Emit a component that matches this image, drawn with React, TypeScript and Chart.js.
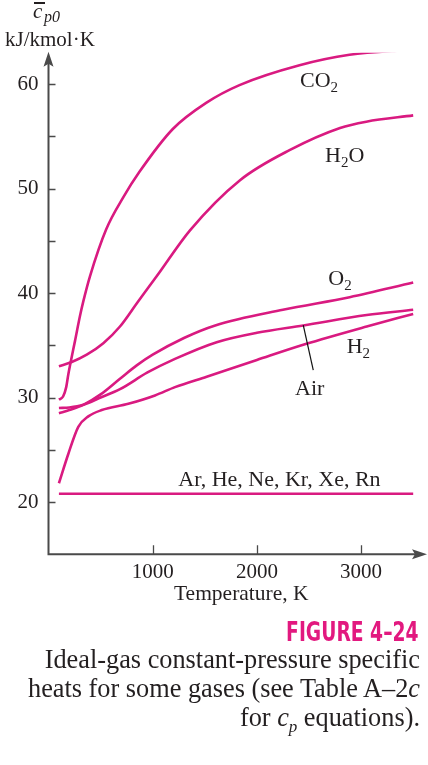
import React, { useEffect, useRef } from 'react';
import { Chart, registerables } from 'chart.js';

Chart.register(...registerables);

// ---------- data ----------
const co2T = [100, 140, 170, 190, 215, 254, 302, 334, 398, 554, 720, 873, 1193, 1513, 1833, 2409, 2889, 3500];
const co2Cp = [29.8, 30.1, 31.0, 32.2, 33.5, 35.4, 37.8, 39.2, 41.6, 46.1, 49.2, 51.6, 55.7, 58.2, 59.9, 61.8, 62.8, 63.3];

const h2oT = [100, 223, 367, 526, 686, 860, 1038, 1358, 1838, 2318, 2798, 3050, 3500];
const h2oCp = [33.0, 33.4, 34.1, 35.2, 36.8, 39.2, 41.6, 46.0, 50.8, 53.7, 55.8, 56.4, 57.0];

const o2T = [100, 200, 334, 500, 686, 850, 1000, 1300, 1600, 2250, 2890, 3500];
const o2Cp = [28.5, 28.8, 29.3, 30.3, 31.8, 33.1, 34.1, 35.7, 36.9, 38.4, 39.6, 41.0];

const airT = [100, 200, 334, 500, 686, 950, 1214, 1614, 2000, 2445, 3054, 3500];
const airCp = [29.0, 29.05, 29.3, 30.0, 30.8, 32.4, 33.7, 35.3, 36.2, 36.9, 37.9, 38.4];

const h2T = [100, 190, 286, 382, 511, 766, 1022, 1214, 1518, 2000, 2460, 3054, 3500];
const h2Cp = [21.8, 24.6, 27.2, 28.2, 28.8, 29.4, 30.2, 31.0, 32.0, 33.6, 35.1, 36.8, 38.0];

const nobleT = [100, 3500];
const nobleCp = [20.8, 20.8];

const xTickValues = [1000, 2000, 3000];
const yTickValues = [20, 25, 30, 35, 40, 45, 50, 55, 60];
const yTickLabels = [20, 30, 40, 50, 60];

// ---------- style ----------
const LINE = '#d91a80';
const AXIS = '#4a4a4a';
const TEXT = '#231f20';
const SERIF = '"Liberation Serif", "Times New Roman", serif';

const toPts = (xs: number[], ys: number[]) => xs.map((x, i) => ({ x, y: ys[i] }));

type Part = [string, boolean];
const curveLabels: { parts: Part[]; t: number; v: number }[] = [
  { parts: [['CO', false], ['2', true]], t: 2414, v: 59.74 },
  { parts: [['H', false], ['2', true], ['O', false]], t: 2654, v: 52.5 },
  { parts: [['O', false], ['2', true]], t: 2685, v: 40.77 },
  { parts: [['H', false], ['2', true]], t: 2862, v: 34.23 },
  { parts: [['Air', false]], t: 2366, v: 30.24 },
  { parts: [['Ar, He, Ne, Kr, Xe, Rn', false]], t: 1246, v: 21.53 },
];

const decorPlugin = {
  id: 'figureDecor',
  afterDraw(chart: any) {
    const { ctx, scales } = chart;
    const xs = scales.x;
    const ys = scales.y;
    const x0 = xs.getPixelForValue(0);
    const yb = ys.getPixelForValue(15);
    const yTop = ys.getPixelForValue(63);
    const xEnd = chart.width - 1;
    ctx.save();
    // axes
    ctx.strokeStyle = AXIS;
    ctx.fillStyle = AXIS;
    ctx.lineWidth = 2;
    ctx.beginPath();
    ctx.moveTo(x0, yb + 1);
    ctx.lineTo(x0, yTop + 8);
    ctx.moveTo(x0 - 1, yb);
    ctx.lineTo(xEnd - 8, yb);
    ctx.stroke();
    // arrow heads
    ctx.beginPath();
    ctx.moveTo(x0, yTop - 1);
    ctx.lineTo(x0 - 5, yTop + 14);
    ctx.lineTo(x0, yTop + 11);
    ctx.lineTo(x0 + 5, yTop + 14);
    ctx.closePath();
    ctx.fill();
    ctx.beginPath();
    ctx.moveTo(xEnd, yb);
    ctx.lineTo(xEnd - 15, yb - 5);
    ctx.lineTo(xEnd - 12, yb);
    ctx.lineTo(xEnd - 15, yb + 5);
    ctx.closePath();
    ctx.fill();
    // tick marks
    ctx.lineWidth = 1.3;
    ctx.beginPath();
    yTickValues.forEach((v) => {
      const py = Math.round(ys.getPixelForValue(v)) + 0.5;
      ctx.moveTo(x0, py);
      ctx.lineTo(x0 + 7, py);
    });
    xTickValues.forEach((t) => {
      const px = Math.round(xs.getPixelForValue(t)) + 0.5;
      ctx.moveTo(px, yb);
      ctx.lineTo(px, yb - 9);
    });
    ctx.stroke();
    // x tick labels
    ctx.fillStyle = TEXT;
    ctx.font = `21px ${SERIF}`;
    ctx.textAlign = 'center';
    ctx.textBaseline = 'alphabetic';
    xTickValues.forEach((t) => {
      ctx.fillText(String(t), xs.getPixelForValue(t), yb + 23.5);
    });
    // leader line for Air
    ctx.strokeStyle = '#111';
    ctx.lineWidth = 1.2;
    ctx.beginPath();
    ctx.moveTo(xs.getPixelForValue(2445), ys.getPixelForValue(36.94));
    ctx.lineTo(xs.getPixelForValue(2541), ys.getPixelForValue(32.63));
    ctx.stroke();
    // curve labels
    ctx.textAlign = 'left';
    curveLabels.forEach((lab) => {
      let px = xs.getPixelForValue(lab.t);
      const py = ys.getPixelForValue(lab.v);
      lab.parts.forEach(([txt, sub]) => {
        ctx.font = sub ? `15px ${SERIF}` : `22px ${SERIF}`;
        ctx.fillText(txt, px, sub ? py + 5 : py);
        px += ctx.measureText(txt).width;
      });
    });
    // x axis title
    ctx.font = `21.5px ${SERIF}`;
    ctx.textAlign = 'center';
    ctx.fillText('Temperature, K', xs.getPixelForValue(1850), 600);
    ctx.restore();
  },
};

export default function App() {
  const canvasRef = useRef<HTMLCanvasElement | null>(null);

  useEffect(() => {
    if (!canvasRef.current) return;
    const mk = (label: string, xsv: number[], ysv: number[]) => ({
      label,
      data: toPts(xsv, ysv),
      borderColor: LINE,
      borderWidth: 2.6,
      pointRadius: 0,
      fill: false,
      cubicInterpolationMode: 'monotone' as const,
    });
    const chart = new Chart(canvasRef.current, {
      type: 'line',
      data: {
        datasets: [
          mk('CO2', co2T, co2Cp),
          mk('H2O', h2oT, h2oCp),
          mk('O2', o2T, o2Cp),
          mk('Air', airT, airCp),
          mk('H2', h2T, h2Cp),
          mk('Ar, He, Ne, Kr, Xe, Rn', nobleT, nobleCp),
        ],
      },
      options: {
        animation: false,
        responsive: false,
        maintainAspectRatio: false,
        layout: { padding: { left: 0, top: 52.7, right: 4.4, bottom: 159.4 } },
        plugins: { legend: { display: false }, tooltip: { enabled: false } },
        scales: {
          x: {
            type: 'linear',
            min: 0,
            max: 3600,
            afterFit: (s: any) => {
              s.height = 51.3;
            },
            grid: { display: false, drawTicks: false },
            border: { display: false },
            ticks: { display: false, stepSize: 1000 },
          },
          y: {
            type: 'linear',
            min: 15,
            max: 63,
            afterFit: (s: any) => {
              s.width = 48.5;
            },
            grid: { display: false, drawTicks: false },
            border: { display: false },
            ticks: {
              stepSize: 5,
              autoSkip: false,
              padding: 10,
              color: TEXT,
              font: { family: SERIF, size: 21 },
              callback: (v: any) => (yTickLabels.includes(Number(v)) ? String(v) : ''),
            },
          },
        },
      },
      plugins: [decorPlugin],
    });
    return () => chart.destroy();
  }, []);

  const serif: React.CSSProperties = { fontFamily: SERIF, color: TEXT, position: 'absolute', whiteSpace: 'nowrap' };

  return (
    <div style={{ position: 'absolute', left: 0, top: 0, width: 428, height: 765, background: '#fff', overflow: 'hidden' }}>
      <canvas ref={canvasRef} width={428} height={765} style={{ position: 'absolute', left: 0, top: 0, width: 428, height: 765 }} />
      {/* y axis title */}
      <div style={{ position: 'absolute', left: 34, top: 2, width: 11, height: 1.5, background: TEXT }} />
      <span style={{ ...serif, left: 33, top: 1.2, fontSize: 21, lineHeight: '21px', fontStyle: 'italic' }}>c</span>
      <span style={{ ...serif, left: 44, top: 8.6, fontSize: 16, lineHeight: '16px', fontStyle: 'italic' }}>p0</span>
      <span style={{ ...serif, left: 5, top: 29.4, fontSize: 21, lineHeight: '21px' }}>kJ/kmol·K</span>
      {/* caption */}
      <div
        style={{
          position: 'absolute',
          right: 9,
          top: 618.6,
          fontSize: 26,
          lineHeight: '26px',
          fontWeight: 'bold',
          fontFamily: '"Liberation Sans Narrow", "DejaVu Sans Condensed", "Liberation Sans", sans-serif',
          fontStretch: 'condensed',
          color: '#e2197f',
          whiteSpace: 'nowrap',
          transform: 'scaleX(0.8)',
          transformOrigin: 'right center',
        }}
      >
        FIGURE 4–24
      </div>
      <div style={{ ...serif, right: 8, top: 644.6, fontSize: 26.3, lineHeight: '29px', textAlign: 'right' }}>
        <div>Ideal-gas constant-pressure specific</div>
        <div>heats for some gases (see Table A–2<i>c</i></div>
        <div>
          for <i>c</i>
          <sub style={{ fontSize: 17, fontStyle: 'italic', lineHeight: 0 }}>p</sub> equations).
        </div>
      </div>
    </div>
  );
}
